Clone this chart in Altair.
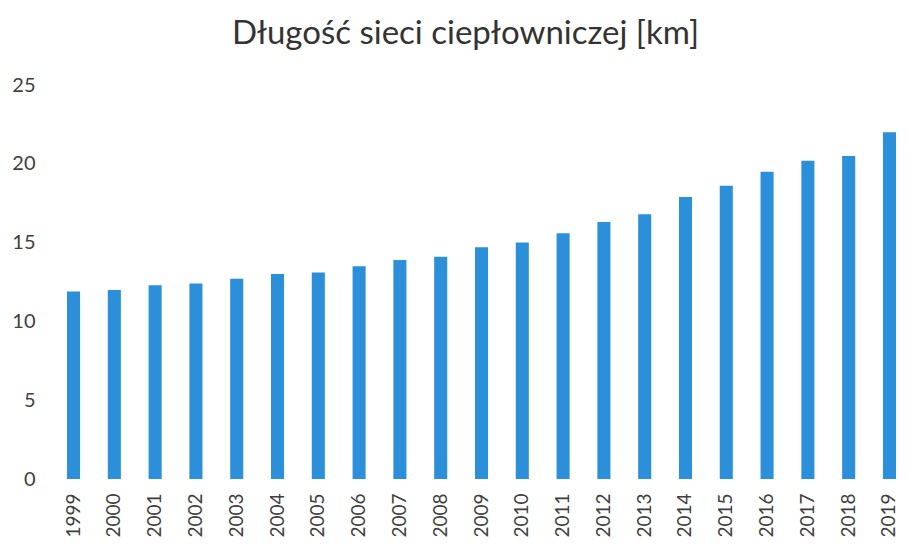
import altair as alt
import pandas as pd

years = [str(y) for y in range(1999, 2020)]
lengths = [11.9, 12.0, 12.3, 12.4, 12.7, 13.0, 13.1, 13.5, 13.9, 14.1, 14.7,
           15.0, 15.6, 16.3, 16.8, 17.9, 18.6, 19.5, 20.2, 20.5, 22.0]
title_text = "Długość sieci ciepłowniczej [km]"
y_ticks = [0, 5, 10, 15, 20, 25]

df = pd.DataFrame({"rok": years, "km": lengths})

font = "Lato"

chart = alt.Chart(df).mark_bar(color="#2C8FD9").encode(
    x=alt.X("rok:N", sort=None,
            scale=alt.Scale(paddingInner=0.68, paddingOuter=0),
            axis=alt.Axis(title=None, labelAngle=-90, domain=False, ticks=False,
                          labelPadding=14, labelFont=font, labelFontSize=19,
                          labelColor="#404040", labelBaseline="middle")),
    y=alt.Y("km:Q", scale=alt.Scale(domain=[0, 25], nice=False),
            axis=alt.Axis(title=None, values=y_ticks, domain=False, ticks=False,
                          grid=False, labelPadding=32, labelFont=font,
                          labelFontSize=20, labelColor="#404040")),
).properties(
    width=829,
    height=394,
    title=alt.TitleParams(text=title_text, font=font, fontSize=33,
                          fontWeight="normal", color="#333333",
                          anchor="middle", offset=24, dx=-16),
    autosize=alt.AutoSizeParams(type="none"),
    padding={"left": 59, "top": 77, "right": 5, "bottom": 70},
).configure_view(stroke=None)

chart.save("out.html", embed_options={"renderer": "svg", "actions": False})
